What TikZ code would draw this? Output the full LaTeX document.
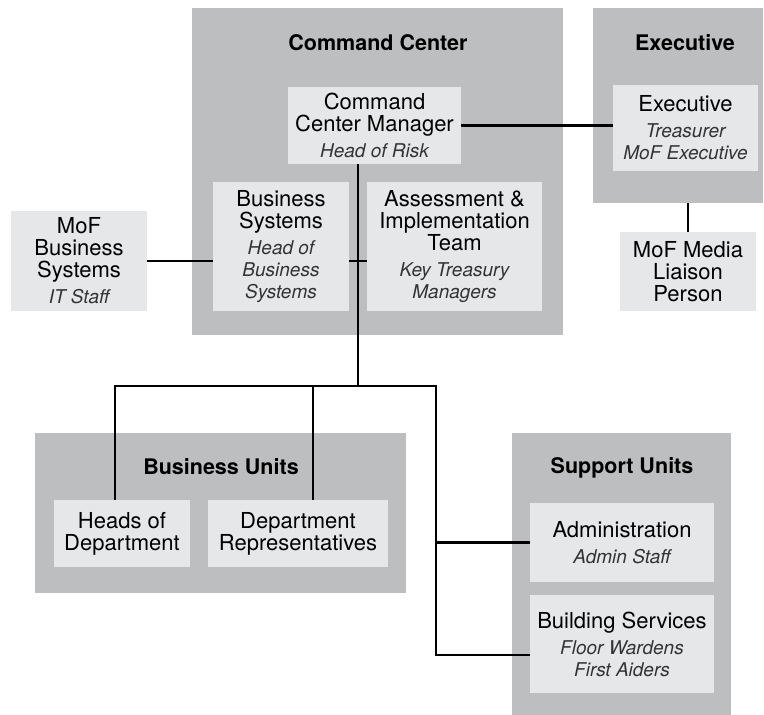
\documentclass[tikz,border=0pt]{standalone}
\usepackage{fontspec}
\setmainfont{TeX Gyre Heros}
\usepackage{tikz}
\usepackage{xcolor}
\definecolor{groupgray}{RGB}{189,190,192}
\definecolor{boxgray}{RGB}{230,231,232}
\definecolor{rolegray}{RGB}{51,51,51}
\newcommand{\role}[1]{{\fontsize{19}{22}\selectfont\itshape\color{rolegray}#1}}
\tikzstyle{group} = [fill=groupgray, anchor=north west, inner sep=0]
\tikzstyle{unit} = [fill=boxgray, align=center, inner sep=0, font=\fontsize{22}{22}\selectfont]
\tikzstyle{grouptitle} = [font=\fontsize{21.5}{22}\selectfont\bfseries, inner sep=0]
\tikzstyle{link} = [draw, black, line width=2.8pt]

\begin{document}
\begin{tikzpicture}[x=1pt, y=-1pt]
            \useasboundingbox (0,0) rectangle (764,715);
            % Groups
            \node[group, minimum width=371pt, minimum height=327pt] (cc) at (192,8) {};
            \node[group, minimum width=170pt, minimum height=195pt] (execgrp) at (593,8) {};
            \node[group, minimum width=371pt, minimum height=160pt] (bu) at (35,433) {};
            \node[group, minimum width=219pt, minimum height=282pt] (su) at (512,433) {};
            \node[grouptitle] (cctitle) at (378,43) {Command Center};
            \node[grouptitle] (exectitle) at (685,43) {Executive};
            \node[grouptitle] (butitle) at (221,467) {Business Units};
            \node[grouptitle] (sutitle) at (622,468) {Support Units};

            % Nodes
            \node[unit, minimum width=173pt, minimum height=77pt] (ccm) at (374.5,125.5) {Command\\Center Manager\\[4pt]\role{Head of Risk}};
            \node[unit, minimum width=136pt, minimum height=129pt] (bizsys) at (281,246.5) {Business\\Systems\\[4pt]\role{Head of}\\\role{Business}\\\role{Systems}};
            \node[unit, minimum width=175pt, minimum height=129pt] (assess) at (454.5,246.5) {Assessment \&\\Implementation\\Team\\[4pt]\role{Key Treasury}\\\role{Managers}};
            \node[unit, minimum width=136pt, minimum height=100pt] (mofbs) at (79,261) {MoF\\Business\\Systems\\[4pt]\role{IT Staff}};
            \node[unit, minimum width=145pt, minimum height=86pt] (exec) at (685.5,128) {Executive\\[4pt]\role{Treasurer}\\\role{MoF Executive}};
            \node[unit, minimum width=136pt, minimum height=79pt] (media) at (688,271.5) {MoF Media\\Liaison\\Person};
            \node[unit, minimum width=136pt, minimum height=67pt] (heads) at (122,533.5) {Heads of\\Department};
            \node[unit, minimum width=180pt, minimum height=67pt] (deptrep) at (298,533.5) {Department\\Representatives};
            \node[unit, minimum width=184pt, minimum height=79pt] (admin) at (622,542.5) {Administration\\[4pt]\role{Admin Staff}};
            \node[unit, minimum width=184pt, minimum height=98pt] (bldg) at (622,644) {Building Services\\[4pt]\role{Floor Wardens}\\\role{First Aiders}};

            % Bus points
            \coordinate (bus) at (358,386);
            \coordinate (busL) at (115,386);
            \coordinate (busD) at (313,386);
            \coordinate (busR) at (436,386);

            % Connecting lines
            \draw[link] (ccm.east) -- (exec.west |- ccm.east);
            \draw[link] (mofbs.east) -- (mofbs.east -| bizsys.west);
            \draw[link] (bizsys.east |- mofbs.east) -- (assess.west |- mofbs.east);
            \draw[link] (execgrp.south -| media.north) -- (media.north);
            \draw[link] (ccm.south -| bus) -- (bus);
            \draw[link] (busL |- heads.north) -- (busL) -- (busR) |- ([yshift=-11pt]bldg.west);
            \draw[link] (busD |- deptrep.north) -- (busD);
            \draw[link] (busR |- admin.west) -- (admin.west);
        \end{tikzpicture}
\end{document}
